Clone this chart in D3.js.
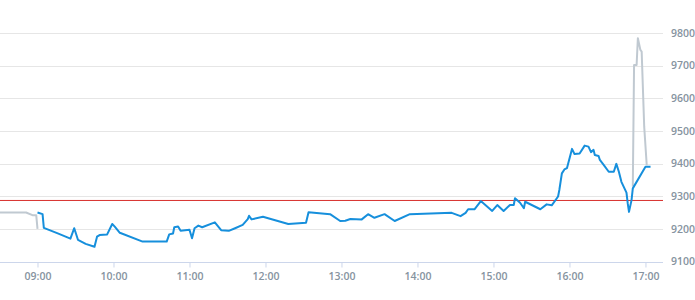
<!DOCTYPE html>
<html>
<head>
<meta charset="utf-8">
<script src="https://cdn.jsdelivr.net/npm/d3@7"></script>
<style>
  html, body { margin: 0; padding: 0; background: #fff; }
  svg { display: block; }
  text { font-family: "Open Sans", sans-serif; }
</style>
</head>
<body>
<svg id="chart" width="695" height="300"></svg>
<script>
// ---- data ----
const preTimes  = ["08:30", "08:51", "08:56", "08:59", "09:00"];
const preValues = [9250, 9250, 9242, 9242, 9200];

const sessionTimes = [
  "09:00","09:04","09:05","09:16","09:26","09:29","09:32","09:38","09:45","09:47","09:49","09:55","09:59",
  "10:01","10:05","10:23","10:42","10:44","10:47","10:48","10:51","10:53","11:00","11:02","11:04","11:07","11:10",
  "11:20","11:25","11:31","11:36","11:42","11:46","11:47","11:49","11:58","12:18","12:32","12:34","12:51","12:59",
  "13:03","13:07","13:16","13:21","13:26","13:34","13:42","13:54","14:27","14:34","14:38","14:40","14:45","14:50",
  "14:59","15:03","15:08","15:13","15:16","15:17","15:21","15:24","15:25","15:37","15:42","15:46","15:51","15:52",
  "15:54","15:56","15:58","16:02","16:04","16:08","16:12","16:15","16:17","16:19","16:20","16:23","16:24","16:27",
  "16:31","16:35","16:37","16:39","16:41","16:45","16:46","16:47","16:49","16:50","17:00","17:04"
];
const sessionValues = [
  9250,9245,9203,9186,9170,9202,9166,9154,9145,9176,9181,9183,9215,
  9207,9188,9161,9161,9183,9186,9205,9207,9194,9197,9171,9202,9210,9205,
  9220,9196,9194,9202,9212,9230,9240,9229,9237,9215,9219,9251,9245,9224,
  9225,9230,9229,9245,9234,9245,9224,9245,9249,9239,9249,9260,9260,9285,
  9255,9273,9255,9273,9273,9294,9280,9263,9283,9260,9275,9272,9299,9319,
  9370,9382,9386,9445,9429,9431,9455,9452,9435,9442,9426,9423,9411,9396,
  9375,9375,9399,9375,9344,9311,9278,9252,9288,9324,9390,9390
];

const postTimes  = ["16:50", "16:51", "16:53", "16:54", "16:56", "16:57", "16:59", "17:01"];
const postValues = [9330, 9702, 9702, 9784, 9748, 9743, 9513, 9395];

const refValue = 9287;
const yTicks = [9100, 9200, 9300, 9400, 9500, 9600, 9700, 9800];
const xTicks = ["09:00","10:00","11:00","12:00","13:00","14:00","15:00","16:00","17:00"];

// ---- chart ----
const parse = d3.timeParse("%H:%M");
const svg = d3.select("#chart");
const plotRight = 663;

const x = d3.scaleTime()
  .domain([parse("08:30"), parse("17:14")])
  .range([-0.5, 663.2]);
const y = d3.scaleLinear().domain([9100, 9800]).range([261.5, 33]);

const labelColor = "#8693a0";
const labelSize = 10.5;

// grid lines
svg.append("g").selectAll("line")
  .data(yTicks.filter(v => v !== 9100))
  .join("line")
  .attr("x1", 0).attr("x2", plotRight)
  .attr("y1", d => Math.round(y(d)) + 0.5).attr("y2", d => Math.round(y(d)) + 0.5)
  .attr("stroke", "#e6e6e6").attr("stroke-width", 1);

// y labels (right)
svg.append("g").selectAll("text")
  .data(yTicks)
  .join("text")
  .attr("x", 671).attr("y", d => y(d))
  .attr("dy", "0.35em")
  .attr("font-size", labelSize)
  .attr("font-weight", 600)
  .attr("fill", labelColor)
  .text(d => d);

// x axis
const xAxis = d3.axisBottom(x)
  .tickValues(xTicks.map(parse))
  .tickFormat(d3.timeFormat("%H:%M"))
  .tickSize(5)
  .tickSizeOuter(0)
  .tickPadding(5);
const gx = svg.append("g")
  .attr("transform", `translate(0,${Math.round(y(9100)) + 0.5})`)
  .call(xAxis);
gx.select(".domain").attr("stroke", "#ccd6eb").attr("d", `M0,0H${plotRight}`);
gx.selectAll(".tick line").attr("stroke", "#ccd6eb");
gx.selectAll(".tick text")
  .attr("fill", labelColor)
  .attr("font-size", labelSize)
  .attr("font-weight", 600)
  .attr("font-family", "Open Sans, sans-serif");

// reference line
svg.append("line")
  .attr("x1", 0).attr("x2", plotRight)
  .attr("y1", y(refValue)).attr("y2", y(refValue))
  .attr("stroke", "#d8302c").attr("stroke-width", 1);

const line = d3.line()
  .x(d => x(parse(d[0])))
  .y(d => y(d[1]));

// gray extended-hours lines
svg.append("path")
  .datum(d3.zip(preTimes, preValues))
  .attr("d", line)
  .attr("fill", "none").attr("stroke", "#c0c9d1").attr("stroke-width", 2)
  .attr("stroke-linejoin", "round");
svg.append("path")
  .datum(d3.zip(postTimes, postValues))
  .attr("d", line)
  .attr("fill", "none").attr("stroke", "#c0c9d1").attr("stroke-width", 2)
  .attr("stroke-linejoin", "round");

// main session line
svg.append("path")
  .datum(d3.zip(sessionTimes, sessionValues))
  .attr("d", line)
  .attr("fill", "none").attr("stroke", "#168fdc").attr("stroke-width", 2)
  .attr("stroke-linejoin", "round");
</script>
</body>
</html>
